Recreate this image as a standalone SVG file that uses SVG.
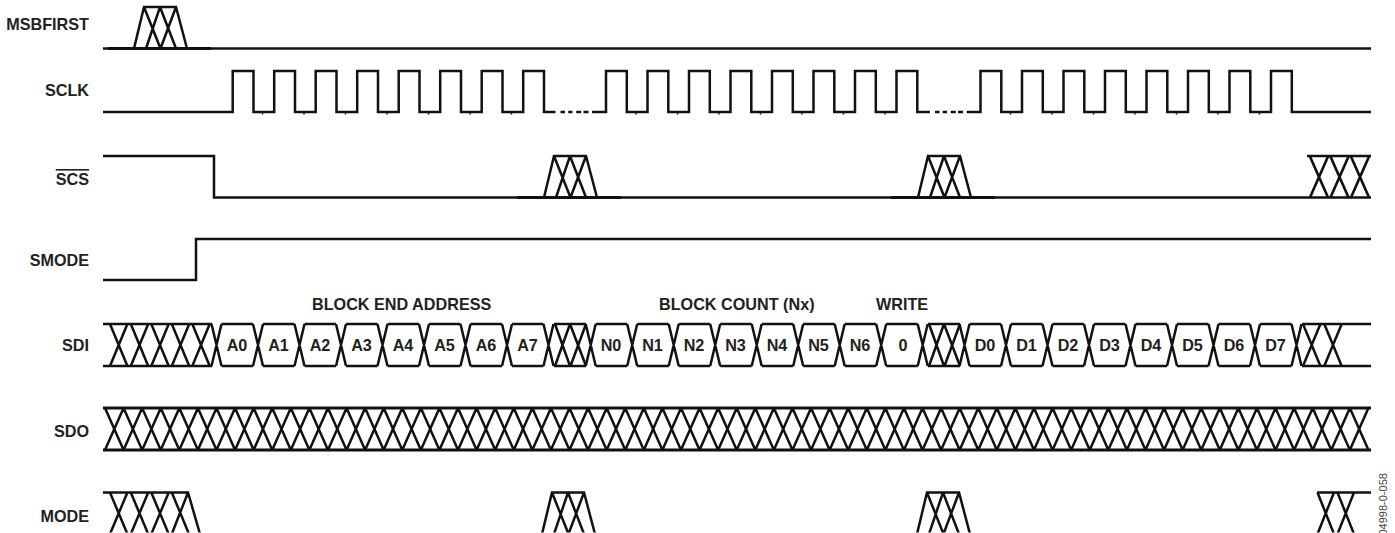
<svg xmlns="http://www.w3.org/2000/svg" xmlns:xlink="http://www.w3.org/1999/xlink" width="1395" height="533" viewBox="0 0 1395 533">
<style>
.w{fill:none;stroke:#111;stroke-width:2.5;stroke-linejoin:miter;stroke-miterlimit:2;stroke-linecap:butt}
.t{font-family:"Liberation Sans",Arial,sans-serif;font-weight:700;font-size:16.2px;fill:#222}
.l{text-anchor:end}
.c{text-anchor:middle}
</style>
<defs>
<path id="trap" d="M0 41.5L10 0H42L53 41.5M10 0L26.5 41.5M12 41.5L26 0L42 41.5M26.5 41.5L42 0"/>
<path id="x" d="M-8.7 -21L8.7 21M-8.7 21L8.7 -21"/>
<clipPath id="cl"><rect x="0" y="0" width="1395" height="532.5"/></clipPath>
</defs>
<rect width="1395" height="533" fill="#fff"/>
<g id="connectors">
<g id="wave-msbfirst" class="w">
<path d="M103 48.5H1371"/><path d="M108 48.5H211" stroke-width="2.9"/>
<use xlink:href="#trap" href="#trap" x="134" y="7"/>
</g>
<g id="wave-sclk" class="w">
<path d="M103 112H232.7V71H253.5V112H274.2V71H295V112H315.7V71H336.5V112H357.2V71H378V112H398.7V71H419.5V112H440.2V71H461V112H481.7V71H502.5V112H523.2V71H544V112H555.5"/>
<path d="M560.5 112H565M568.2 112H572.5M576.2 112H581.2M583.5 112H588.5"/>
<path d="M592 112H606V71H626.8V112H647.5V71H668.3V112H689V71H709.8V112H730.5V71H751.3V112H772V71H792.8V112H813.5V71H834.3V112H855V71H875.8V112H896.5V71H917.3V112H930"/>
<path d="M935 112H939.5M942.7 112H947M950.7 112H955.7M958 112H963"/>
<path d="M966.7 112H980.5V71H1001.3V112H1022V71H1042.8V112H1063.5V71H1084.3V112H1105V71H1125.8V112H1146.5V71H1167.3V112H1188V71H1208.8V112H1229.5V71H1250.3V112H1271V71H1291.8V112H1371"/>
<path stroke-width="1.4" d="M262.5 112v2.5M304 112v2.5M345.5 112v2.5M387 112v2.5M428.5 112v2.5M470 112v2.5M511.5 112v2.5M636 112v2.5M677.5 112v2.5M719 112v2.5M760.5 112v2.5M802 112v2.5M843.5 112v2.5M885 112v2.5M1010.5 112v2.5M1052 112v2.5M1093.5 112v2.5M1135 112v2.5M1176.5 112v2.5M1218 112v2.5M1259.5 112v2.5"/>
</g>
<g id="wave-scs" class="w">
<path d="M103 156H214V197.5H1371"/>
<path d="M517 197.5H621M891 197.5H995" stroke-width="2.9"/>
<use xlink:href="#trap" href="#trap" x="544" y="156"/>
<use xlink:href="#trap" href="#trap" x="918" y="156"/>
<path d="M1307 156H1371"/>
<use xlink:href="#x" href="#x" transform="translate(1319 177) scale(1.05 .99)"/>
<use xlink:href="#x" href="#x" transform="translate(1339.5 177) scale(1.05 .99)"/>
<use xlink:href="#x" href="#x" transform="translate(1360 177) scale(1.05 .99)"/>
</g>
<g id="wave-smode" class="w"><path d="M103 280H196V239H1371"/></g>
<g id="wave-sdi" class="w">
<path d="M103 324H212M103 366H212M221.5 324H253M221.5 366H253M263 324H294.5M263 366H294.5M304.5 324H336M304.5 366H336M346 324H377.5M346 366H377.5M387.5 324H419M387.5 366H419M429 324H460.5M429 366H460.5M470.5 324H502M470.5 366H502M512 324H543.5M512 366H543.5M554 324H586M554 366H586M595.7 324H627.2M595.7 366H627.2M637.2 324H668.7M637.2 366H668.7M678.7 324H710.2M678.7 366H710.2M720.2 324H751.7M720.2 366H751.7M761.7 324H793.2M761.7 366H793.2M803.2 324H834.7M803.2 366H834.7M844.7 324H876.2M844.7 366H876.2M886.2 324H917.7M886.2 366H917.7M928 324H960M928 366H960M969.5 324H1001M969.5 366H1001M1011 324H1042.5M1011 366H1042.5M1052.5 324H1084M1052.5 366H1084M1094 324H1125.5M1094 366H1125.5M1135.5 324H1167M1135.5 366H1167M1177 324H1208.5M1177 366H1208.5M1218.5 324H1250M1218.5 366H1250M1260 324H1291.5M1260 366H1291.5M1302 324H1371M1302 366H1371"/>
<path d="M110 366L127.4 324M110 324L127.4 366M130.8 366L148.2 324M130.8 324L148.2 366M151.3 366L168.7 324M151.3 324L168.7 366M171.8 366L189.2 324M171.8 324L189.2 366M192.3 366L209.7 324M192.3 324L209.7 366"/>
<path d="M211.5 324L221.5 366M211.5 366L221.5 324M253 324L263 366M253 366L263 324M294.5 324L304.5 366M294.5 366L304.5 324M336 324L346 366M336 366L346 324M377.5 324L387.5 366M377.5 366L387.5 324M419 324L429 366M419 366L429 324M460.5 324L470.5 366M460.5 366L470.5 324M502 324L512 366M502 366L512 324M543.5 324L553.5 366M543.5 366L553.5 324"/>
<path d="M555 324L570 366M555 366L570 324L586 366M570.5 366L586 324"/>
<path d="M585.7 324L595.7 366M585.7 366L595.7 324M627.2 324L637.2 366M627.2 366L637.2 324M668.7 324L678.7 366M668.7 366L678.7 324M710.2 324L720.2 366M710.2 366L720.2 324M751.7 324L761.7 366M751.7 366L761.7 324M793.2 324L803.2 366M793.2 366L803.2 324M834.7 324L844.7 366M834.7 366L844.7 324M876.2 324L886.2 366M876.2 366L886.2 324M917.7 324L927.7 366M917.7 366L927.7 324"/>
<path d="M929 324L944 366M929 366L944 324L960 366M944.5 366L960 324"/>
<path d="M959.5 324L969.5 366M959.5 366L969.5 324M1001 324L1011 366M1001 366L1011 324M1042.5 324L1052.5 366M1042.5 366L1052.5 324M1084 324L1094 366M1084 366L1094 324M1125.5 324L1135.5 366M1125.5 366L1135.5 324M1167 324L1177 366M1167 366L1177 324M1208.5 324L1218.5 366M1208.5 366L1218.5 324M1250 324L1260 366M1250 366L1260 324M1291.5 324L1301.5 366M1291.5 366L1301.5 324"/>
<path d="M1303 324L1320.4 366M1303 366L1320.4 324M1324.3 324L1341.7 366M1324.3 366L1341.7 324"/>
</g>
<g id="wave-sdo" class="w">
<path d="M103 408H1371M103 450H1371" stroke-width="2.9"/>
<path d="M105 408
l18.58 42 18.58-42 18.58 42 18.58-42 18.58 42 18.58-42 18.58 42 18.58-42 18.58 42 18.58-42
18.58 42 18.58-42 18.58 42 18.58-42 18.58 42 18.58-42 18.58 42 18.58-42 18.58 42 18.58-42
18.58 42 18.58-42 18.58 42 18.58-42 18.58 42 18.58-42 18.58 42 18.58-42 18.58 42 18.58-42
18.58 42 18.58-42 18.58 42 18.58-42 18.58 42 18.58-42 18.58 42 18.58-42 18.58 42 18.58-42
18.58 42 18.58-42 18.58 42 18.58-42 18.58 42 18.58-42 18.58 42 18.58-42 18.58 42 18.58-42
18.58 42 18.58-42 18.58 42 18.58-42 18.58 42 18.58-42 18.58 42 18.58-42 18.58 42 18.58-42
18.58 42 18.58-42 18.58 42 18.58-42 18.58 42 18.58-42 18.58 42 18.58-42"/>
<path d="M105 450
l18.58-42 18.58 42 18.58-42 18.58 42 18.58-42 18.58 42 18.58-42 18.58 42 18.58-42 18.58 42
18.58-42 18.58 42 18.58-42 18.58 42 18.58-42 18.58 42 18.58-42 18.58 42 18.58-42 18.58 42
18.58-42 18.58 42 18.58-42 18.58 42 18.58-42 18.58 42 18.58-42 18.58 42 18.58-42 18.58 42
18.58-42 18.58 42 18.58-42 18.58 42 18.58-42 18.58 42 18.58-42 18.58 42 18.58-42 18.58 42
18.58-42 18.58 42 18.58-42 18.58 42 18.58-42 18.58 42 18.58-42 18.58 42 18.58-42 18.58 42
18.58-42 18.58 42 18.58-42 18.58 42 18.58-42 18.58 42 18.58-42 18.58 42 18.58-42 18.58 42
18.58-42 18.58 42 18.58-42 18.58 42 18.58-42 18.58 42 18.58-42 18.58 42"/>
</g>
<g id="wave-mode" class="w" clip-path="url(#cl)">
<path d="M103 492.5H188L200 534M110 534L127.4 492.5M110 492.5L127.4 534M130.8 534L148.2 492.5M130.8 492.5L148.2 534M151.3 534L168.7 492.5M151.3 492.5L168.7 534M171.8 534L188 492.5M171.8 492.5L189 534"/>
<use xlink:href="#trap" href="#trap" x="542" y="492.5"/>
<use xlink:href="#trap" href="#trap" x="917" y="492.5"/>
<path d="M1317 492.5H1371M1317.5 492.5L1334 534M1317.5 534L1334 492.5M1337.5 492.5L1354 534M1337.5 534L1354 492.5"/>
</g>
</g>
<g id="node-msbfirst"><text class="t l" x="89" y="30">MSBFIRST</text></g>
<g id="node-sclk"><text class="t l" x="89" y="96">SCLK</text></g>
<g id="node-scs"><text class="t l" x="89" y="185" text-decoration="overline">SCS</text></g>
<g id="node-smode"><text class="t l" x="89" y="266">SMODE</text></g>
<g id="node-sdi"><text class="t l" x="89" y="351">SDI</text></g>
<g id="node-sdo"><text class="t l" x="89" y="437">SDO</text></g>
<g id="node-mode"><text class="t l" x="89" y="522">MODE</text></g>
<g id="node-headings">
<text class="t" x="312" y="310">BLOCK END ADDRESS</text>
<text class="t" x="659" y="310">BLOCK COUNT (Nx)</text>
<text class="t" x="876" y="310">WRITE</text>
</g>
<g id="node-address">
<text class="t c" x="237" y="351">A0</text><text class="t c" x="278.5" y="351">A1</text><text class="t c" x="320" y="351">A2</text><text class="t c" x="361.5" y="351">A3</text><text class="t c" x="403" y="351">A4</text><text class="t c" x="444.5" y="351">A5</text><text class="t c" x="486" y="351">A6</text><text class="t c" x="527.5" y="351">A7</text>
</g>
<g id="node-count">
<text class="t c" x="611" y="351">N0</text><text class="t c" x="652.5" y="351">N1</text><text class="t c" x="694" y="351">N2</text><text class="t c" x="735.5" y="351">N3</text><text class="t c" x="777" y="351">N4</text><text class="t c" x="818.5" y="351">N5</text><text class="t c" x="860" y="351">N6</text><text class="t c" x="903" y="351">0</text>
</g>
<g id="node-data">
<text class="t c" x="985" y="351">D0</text><text class="t c" x="1026.5" y="351">D1</text><text class="t c" x="1068" y="351">D2</text><text class="t c" x="1109.5" y="351">D3</text><text class="t c" x="1151" y="351">D4</text><text class="t c" x="1192.5" y="351">D5</text><text class="t c" x="1234" y="351">D6</text><text class="t c" x="1275.5" y="351">D7</text>
</g>
<g id="node-code"><text transform="translate(1387 535.5) rotate(-90)" font-family="'Liberation Sans',Arial,sans-serif" font-size="11" fill="#444">04998-0-058</text></g>
</svg>
